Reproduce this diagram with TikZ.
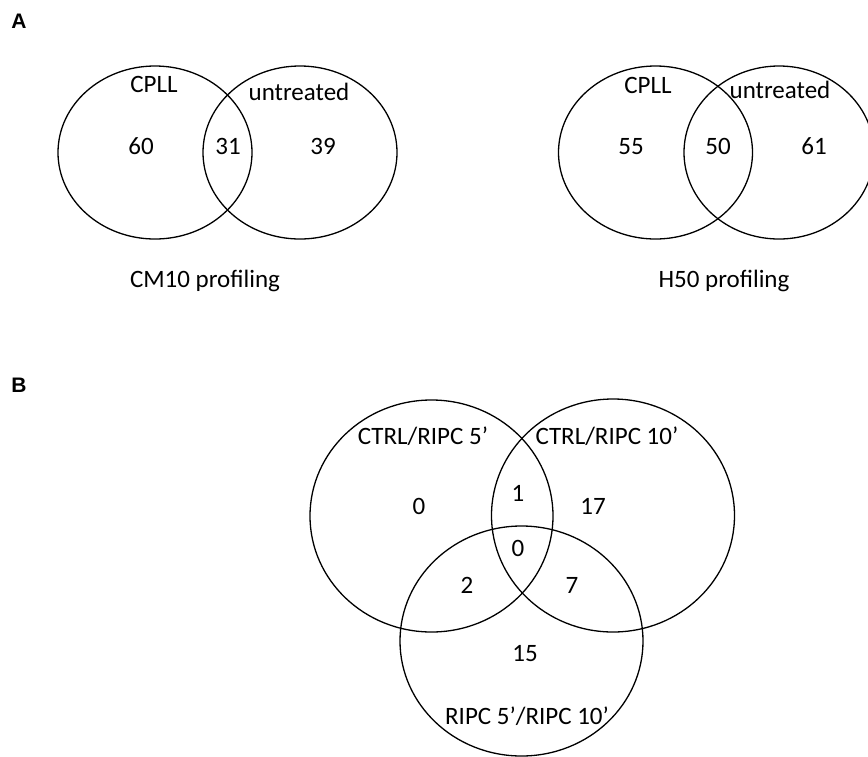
\documentclass[tikz,border=0pt]{standalone}
\usepackage{fontspec}
\setmainfont{Carlito}
\newfontfamily\panelfont{Liberation Sans}
\begin{document}
\begin{tikzpicture}[x=1pt,y=-1pt,
  setline/.style={line width=1.3pt, draw=black},
  lbl/.style={anchor=base, inner sep=0pt, font=\fontsize{25}{30}\selectfont},
  panel/.style={anchor=center, inner sep=0pt, font=\panelfont\bfseries\fontsize{21}{25}\selectfont}]
\useasboundingbox (0,0) rectangle (868,756);
\begin{scope}
\clip (0,0) rectangle (868,756);

% Panel labels
\node[panel] (pA) at (19,21) {A};
\node[panel] (pB) at (19,385) {B};

% ---- Panel A, left: CM10 profiling ----
\draw[setline] (155,152.5) ellipse [x radius=97, y radius=86.5];
\draw[setline] (300,152.5) ellipse [x radius=97, y radius=86.5];
\node[lbl] (cpllL) at (154,92) {CPLL};
\node[lbl] (untrL) at (299,100) {untreated};
\node[lbl] (nL1) at (141,154) {60};
\node[lbl] (nL2) at (228,154) {31};
\node[lbl] (nL3) at (323,154) {39};
\node[lbl] (capL) at (205,287) {CM10 profiling};

% ---- Panel A, right: H50 profiling ----
\draw[setline] (655.5,152.5) ellipse [x radius=97, y radius=86.5];
\draw[setline] (779,152.5) ellipse [x radius=95, y radius=86.5];
\node[lbl] (cpllR) at (648,93) {CPLL};
\node[lbl] (untrR) at (780,98) {untreated};
\node[lbl] (nR1) at (631,154) {55};
\node[lbl] (nR2) at (718,154) {50};
\node[lbl] (nR3) at (814,154) {61};
\node[lbl] (capR) at (724,287) {H50 profiling};

% ---- Panel B: three-set diagram ----
\draw[setline] (431.5,516) ellipse [x radius=121.5, y radius=116];
\draw[setline] (613,515.5) ellipse [x radius=121.5, y radius=116.5];
\draw[setline] (521.5,641) ellipse [x radius=121.5, y radius=115];
\node[lbl] (s1) at (423,444) {CTRL/RIPC 5’};
\node[lbl] (s2) at (607,444) {CTRL/RIPC 10’};
\node[lbl] (s3) at (527,724) {RIPC 5’/RIPC 10’};
\node[lbl] (b1) at (419,514) {0};
\node[lbl] (b12) at (518,501) {1};
\node[lbl] (b2) at (593,514) {17};
\node[lbl] (b123) at (518,556) {0};
\node[lbl] (b13) at (467,593) {2};
\node[lbl] (b23) at (572,593) {7};
\node[lbl] (b3) at (525,661) {15};
\end{scope}
\end{tikzpicture}
\end{document}
